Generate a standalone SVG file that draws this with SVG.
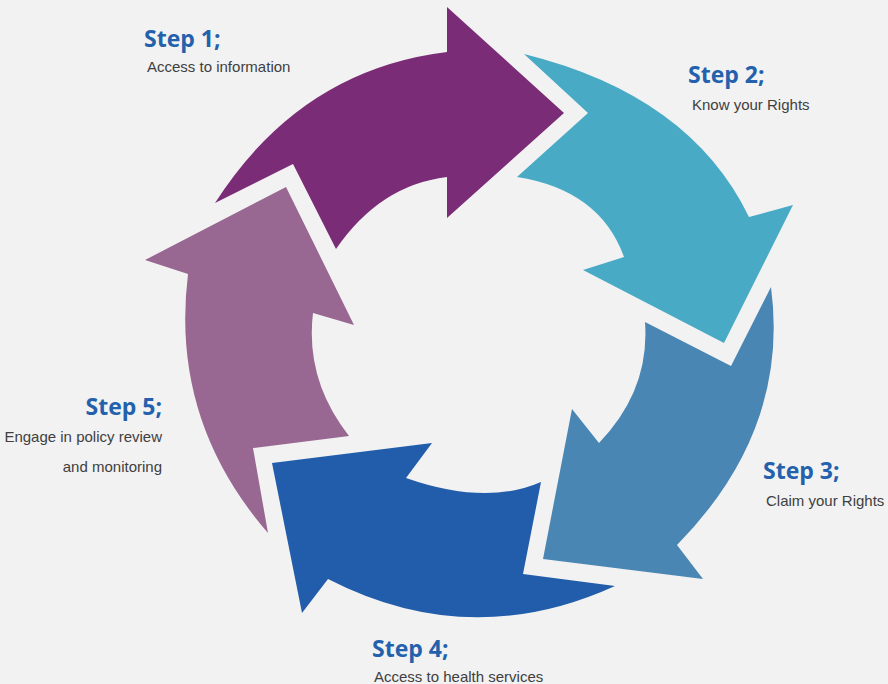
<svg xmlns="http://www.w3.org/2000/svg" width="888" height="684" viewBox="0 0 888 684">
<style>
.step{font-family:"Open Sans","Lato",sans-serif;font-weight:700;font-size:23px;fill:#2461AC}
.desc{font-family:"Liberation Sans",Arial,sans-serif;font-size:15px;fill:#404040}
</style>
<rect width="888" height="684" fill="#F2F2F2"/>
<g id="connectors"></g>
<g id="step1">
<path d="M215,203 Q300,70 447,52 L447,7 L564,113 L447,218 L447,177 Q380,185 336,249 L293,164 Z" fill="#7B2C77"/>
<text class="step" x="144" y="47">Step 1;</text>
<text class="desc" x="147" y="72">Access to information</text>
</g>
<g id="step2">
<path d="M524,54 Q690,95 749,217 L793,205 L724,343 L583,270 L624,257 Q600,190 517,177 L588,113 Z" fill="#49AAC6"/>
<text class="step" x="688" y="83">Step 2;</text>
<text class="desc" x="692" y="110">Know your Rights</text>
</g>
<g id="step3">
<path d="M771,287 Q790,430 677,545 L703,579 L543,559 L572,409 L599,443 Q650,390 645,322 L731,366 Z" fill="#4A86B4"/>
<text class="step" x="763" y="479">Step 3;</text>
<text class="desc" x="766" y="506">Claim your Rights</text>
</g>
<g id="step4">
<path d="M615,586 Q470,652 328,579 L302,613 L272,463 L432,443 L406,478 Q486,506 541,482 L523,574 Z" fill="#215DAA"/>
<text class="step" x="372" y="657">Step 4;</text>
<text class="desc" x="374" y="682">Access to health services</text>
</g>
<g id="step5">
<path d="M268,533 Q170,420 188,274 L145,260 L286,187 L354,325 L313,313 Q305,380 349,436 L253,448 Z" fill="#986892"/>
<text class="step" x="162" y="415" text-anchor="end">Step 5;</text>
<text class="desc" x="162" y="442" text-anchor="end">Engage in policy review</text>
<text class="desc" x="162" y="472" text-anchor="end">and monitoring</text>
</g>
</svg>
